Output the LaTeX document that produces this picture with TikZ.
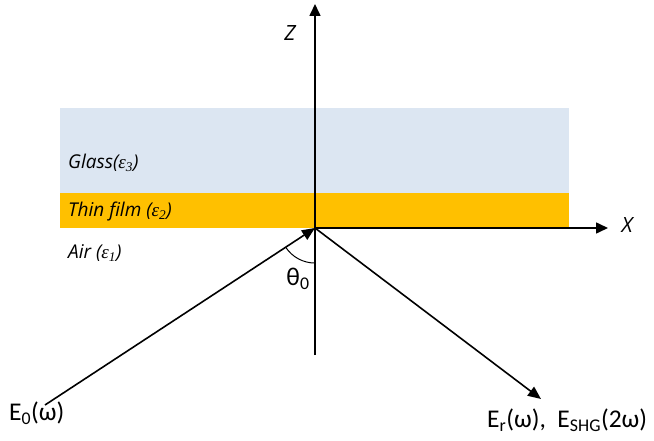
\documentclass[tikz,border=0pt]{standalone}
\usepackage{fontspec}
\setmainfont{Carlito}
\newfontfamily\labfont{Open Sans}
\newfontfamily\epsfont{Liberation Serif}
\newcommand{\epsub}[1]{{\epsfont\itshape ε\textsubscript{#1}}}
\usetikzlibrary{arrows.meta}
\definecolor{glassblue}{RGB}{220,230,242}
\definecolor{filmgold}{RGB}{255,192,0}
\tikzset{
  axisarrow/.style={line width=1.6pt,-{Triangle[length=12pt,width=11pt]}},
  beam/.style={line width=1.6pt,-{Triangle[length=13pt,width=11pt]}},
  layerlab/.style={font=\labfont\itshape\fontsize{19}{22}\selectfont,anchor=west,inner sep=0pt},
  axislab/.style={font=\labfont\itshape\fontsize{21}{24}\selectfont,inner sep=0pt},
  fieldlab/.style={font=\fontsize{25.5}{28}\selectfont,inner sep=0pt}
}
\begin{document}
\begin{tikzpicture}[x=1pt,y=-1pt]
\useasboundingbox (0,0) rectangle (654,441);
\fill[glassblue] (60,108) rectangle (569,193);
\fill[filmgold] (60,193) rectangle (569,228);
\coordinate (O) at (315,228);
\coordinate (zbot) at (315,355);
\coordinate (ztop) at (315,4);
\coordinate (xend) at (608,228);
\coordinate (src) at (45,405);
\coordinate (refl) at (541,399);
\draw[axisarrow] (zbot) -- (ztop);
\draw[axisarrow] (O) -- (xend);
\draw[beam] (src) -- (O);
\draw[beam] (O) -- (refl);
\draw[line width=1pt] ([shift={(-29.3,19.2)}]O) arc[start angle=146.8,end angle=90,x radius=35,y radius=35];
\node[layerlab] (glass) at (68,163) {Glass(\epsub{3})};
\node[layerlab] (film) at (68,212) {Thin film (\epsub{2})};
\node[layerlab] (air) at (68,253) {Air (\epsub{1})};
\node[axislab] (zlab) at (290,33) {Z};
\node[axislab] (xlab) at (627,225) {X};
\node[fieldlab] (theta) at (298,279) {θ\textsubscript{0}};
\node[fieldlab,anchor=west] (e0) at (9,413) {E\textsubscript{0}(ω)};
\node[fieldlab,anchor=west] (er) at (487,420) {E\textsubscript{r}(ω),\ \ E\textsubscript{SHG}(2ω)};
\end{tikzpicture}
\end{document}
